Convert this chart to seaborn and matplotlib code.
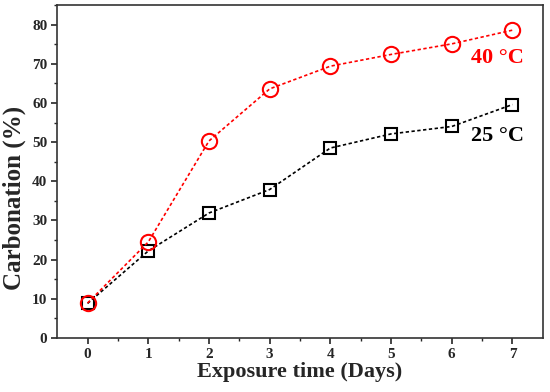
import seaborn as sns
import pandas as pd
import matplotlib.pyplot as plt

days = [0, 1, 2, 3, 4, 5, 6, 7]
carb_40 = [8.9, 24.5, 50.3, 63.6, 69.4, 72.4, 75.1, 78.6]
carb_25 = [8.8, 22.2, 31.9, 37.9, 48.5, 52.1, 54.0, 59.6]

df = pd.DataFrame({"days": days, "40": carb_40, "25": carb_25})

sns.set_style("ticks")
plt.rcParams["font.family"] = ["Liberation Serif", "DejaVu Serif"]
plt.rcParams["font.weight"] = "bold"

fig, ax = plt.subplots(figsize=(5.5, 3.92), dpi=100)

sns.lineplot(df, x="days", y="25", ax=ax, color="black", linestyle=(0, (2, 1.5)),
             linewidth=1.2, marker="s", markersize=9, markerfacecolor="none",
             markeredgecolor="black", markeredgewidth=1.5)
sns.lineplot(df, x="days", y="40", ax=ax, color="red", linestyle=(0, (2, 1.5)),
             linewidth=1.2, marker="o", markersize=11, markerfacecolor="none",
             markeredgecolor="red", markeredgewidth=1.5)

ax.text(6.75, 71.5, "40 °C", color="red", fontsize=16, fontweight="bold", ha="center", va="center")
ax.text(6.75, 51.5, "25 °C", color="black", fontsize=16, fontweight="bold", ha="center", va="center")

ax.set_xlim(-0.5, 7.5)
ax.set_ylim(0, 85)
ax.set_xticks(days)
ax.set_xticks([d + 0.5 for d in days[:-1]], minor=True)
ax.set_yticks(range(0, 81, 10))
ax.set_yticks(range(5, 86, 10), minor=True)
ax.tick_params(which="major", length=4.5, width=1.2, labelsize=11, pad=2.5)
ax.tick_params(which="minor", length=2.5, width=1.0)
for s in ax.spines.values():
    s.set_linewidth(1.2)
    s.set_color("#333333")

ax.set_xlabel("Exposure time (Days)", fontsize=16, fontweight="bold", labelpad=1)
ax.set_ylabel("Carbonation (%)", fontsize=18, fontweight="bold")
ax.yaxis.set_label_coords(-0.064, 0.42)

fig.subplots_adjust(left=0.104, right=0.987, top=0.987, bottom=0.138)
plt.savefig("out.png", dpi=100)
